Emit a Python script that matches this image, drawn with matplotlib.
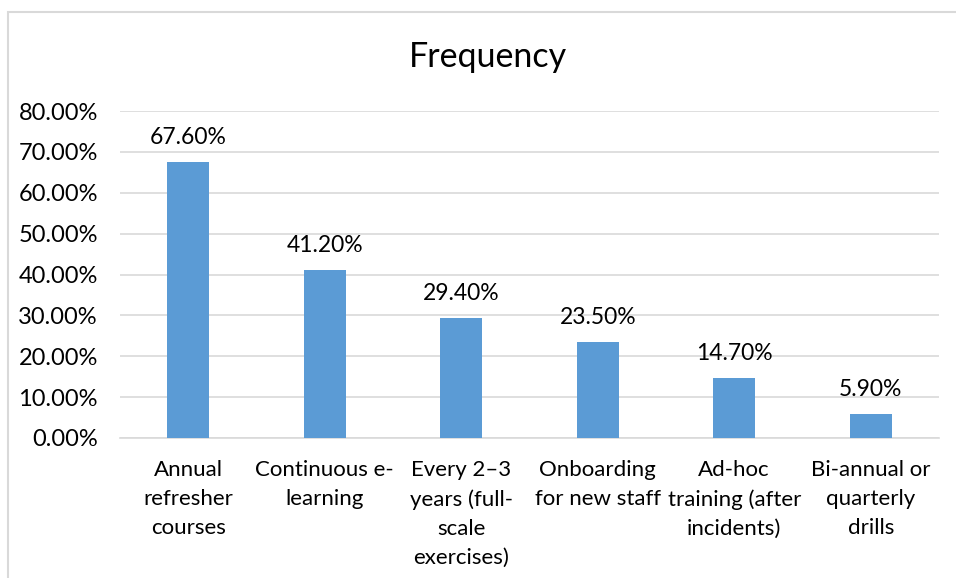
import matplotlib
matplotlib.use('Agg')
import matplotlib.pyplot as plt
from matplotlib.patches import Rectangle
from matplotlib.ticker import PercentFormatter

plt.rcParams['font.family'] = ['Lato', 'DejaVu Sans']

categories = ['Annual\nrefresher\ncourses', 'Continuous e-\nlearning',
              'Every 2\u20133\nyears (full-\nscale\nexercises)', 'Onboarding\nfor new staff',
              'Ad-hoc\ntraining (after\nincidents)', 'Bi-annual or\nquarterly\ndrills']
values = [67.6, 41.2, 29.4, 23.5, 14.7, 5.9]
yticks = [0, 10, 20, 30, 40, 50, 60, 70, 80]

fig = plt.figure(figsize=(9.56, 5.78), dpi=100)
ax = fig.add_axes([120/956, 1-438/578, (939-120)/956, (438-111)/578])

# chart frame (only top/left visible in the reference)
fig.patches.append(Rectangle((7.5/956, -0.1), 2, 1 - 12/578 + 0.1, transform=fig.transFigure,
                             fill=False, edgecolor='#D9D9D9', linewidth=1.5))

x = range(len(values))
ax.bar(x, values, width=0.31, color='#5B9BD5', zorder=3)
for xi, v in zip(x, values):
    ax.text(xi, v + 3.3, f'{v:.2f}%', ha='center', va='bottom', fontsize=16.5, color='#000000')

ax.set_xlim(-0.5, len(values) - 0.5)
ax.set_ylim(0, 80)
ax.set_yticks(yticks)
ax.yaxis.set_major_formatter(PercentFormatter(decimals=2))
ax.set_xticks(list(x))
ax.tick_params(axis='both', length=0, labelsize=17, colors='#000000')
ax.set_xticklabels(categories, fontsize=16, linespacing=1.56, va='top')
ax.tick_params(axis='x', pad=16)
ax.tick_params(axis='y', pad=16)
ax.grid(axis='y', color='#D9D9D9', linewidth=1.2, zorder=0)
for s in ['top', 'right', 'left']:
    ax.spines[s].set_visible(False)
ax.spines['bottom'].set_color('#D9D9D9')
ax.spines['bottom'].set_linewidth(1.2)

fig.text(488/956, 1-57/578, 'Frequency', ha='center', va='center', fontsize=24.5)

fig.savefig('out.png', dpi=100)
